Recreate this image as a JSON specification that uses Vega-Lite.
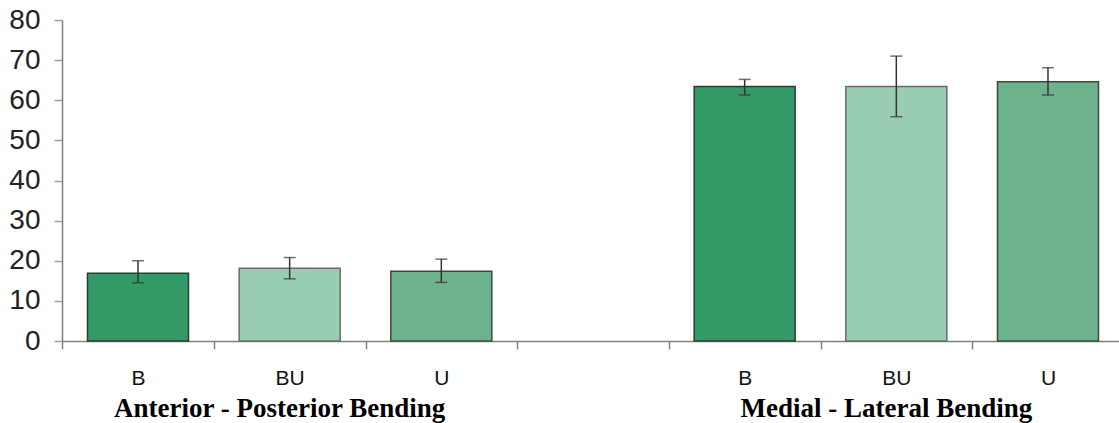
{
  "$schema": "https://vega.github.io/schema/vega-lite/v6.json",
  "width": 1057,
  "height": 321,
  "autosize": {"type": "none"},
  "padding": {"left": 62, "top": 20, "right": 0, "bottom": 82},
  "background": "white",
  "config": {"view": {"stroke": null}},
  "data": {
    "values": [
      {"cat": "B1", "group": "Anterior - Posterior Bending", "type": "B", "mean": 16.9, "lo": 14.5, "hi": 20.0},
      {"cat": "BU1", "group": "Anterior - Posterior Bending", "type": "BU", "mean": 18.1, "lo": 15.5, "hi": 20.8},
      {"cat": "U1", "group": "Anterior - Posterior Bending", "type": "U", "mean": 17.4, "lo": 14.6, "hi": 20.4},
      {"cat": "B2", "group": "Medial - Lateral Bending", "type": "B", "mean": 63.4, "lo": 61.3, "hi": 65.2},
      {"cat": "BU2", "group": "Medial - Lateral Bending", "type": "BU", "mean": 63.4, "lo": 55.9, "hi": 71.0},
      {"cat": "U2", "group": "Medial - Lateral Bending", "type": "U", "mean": 64.6, "lo": 61.3, "hi": 68.1}
    ]
  },
  "resolve": {"axis": {"x": "independent"}},
  "layer": [
    {
      "mark": {"type": "bar", "strokeWidth": 1.5},
      "encoding": {
        "x": {
          "field": "cat", "type": "nominal",
          "scale": {"domain": ["B1", "BU1", "U1", "gap", "B2", "BU2", "U2"], "paddingInner": 0.334, "paddingOuter": 0.1516, "align": 0.554},
          "axis": {
            "title": null, "labelAngle": 0, "orient": "bottom",
            "labelExpr": "datum.value == 'gap' ? '' : slice(datum.value, 0, length(datum.value) - 1)",
            "labelFont": "Liberation Sans", "labelFontSize": 21, "labelColor": "#111111",
            "labelPadding": 18, "tickSize": 8, "bandPosition": 0, "tickOffset": -25.3, "labelOffset": 25.3,
            "domainColor": "#808080", "domainWidth": 1.5, "tickColor": "#808080", "tickWidth": 1.5
          }
        },
        "y": {
          "field": "mean", "type": "quantitative",
          "scale": {"domain": [0, 80], "nice": false},
          "axis": {
            "title": null, "values": [0, 10, 20, 30, 40, 50, 60, 70, 80], "grid": false,
            "labelFont": "Liberation Sans", "labelFontSize": 28, "labelColor": "#222222",
            "labelPadding": 14, "tickSize": 8,
            "domainColor": "#808080", "domainWidth": 1.5, "tickColor": "#a0a0a0", "tickWidth": 1.5
          }
        },
        "color": {
          "field": "type", "type": "nominal",
          "scale": {"domain": ["B", "BU", "U"], "range": ["#339966", "#99cdb2", "#6cb38d"]},
          "legend": null
        },
        "stroke": {
          "field": "type", "type": "nominal",
          "scale": {"domain": ["B", "BU", "U"], "range": ["#2a3f33", "#6a6a6a", "#3a4a40"]},
          "legend": null
        }
      }
    },
    {
      "mark": {"type": "rule", "color": "#333333", "strokeWidth": 1.5},
      "encoding": {
        "x": {"field": "cat", "type": "nominal", "axis": null},
        "y": {"field": "lo", "type": "quantitative"},
        "y2": {"field": "hi"}
      }
    },
    {
      "mark": {"type": "tick", "color": "#333333", "thickness": 1.5, "size": 12},
      "encoding": {
        "x": {"field": "cat", "type": "nominal", "axis": null},
        "y": {"field": "lo", "type": "quantitative"}
      }
    },
    {
      "mark": {"type": "tick", "color": "#333333", "thickness": 1.5, "size": 12},
      "encoding": {
        "x": {
          "field": "cat", "type": "nominal",
          "axis": {
            "title": null, "orient": "bottom", "labelAngle": 0, "domain": false, "ticks": false,
            "labelExpr": "datum.value == 'BU1' ? 'Anterior - Posterior Bending' : datum.value == 'BU2' ? 'Medial - Lateral Bending' : ''",
            "labelFont": "Liberation Serif", "labelFontSize": 27, "labelFontWeight": "bold", "labelColor": "#000000",
            "labelPadding": 54, "labelOffset": -10, "labelOverlap": false, "labelBound": false, "labelLimit": 0
          }
        },
        "y": {"field": "hi", "type": "quantitative"}
      }
    }
  ]
}
